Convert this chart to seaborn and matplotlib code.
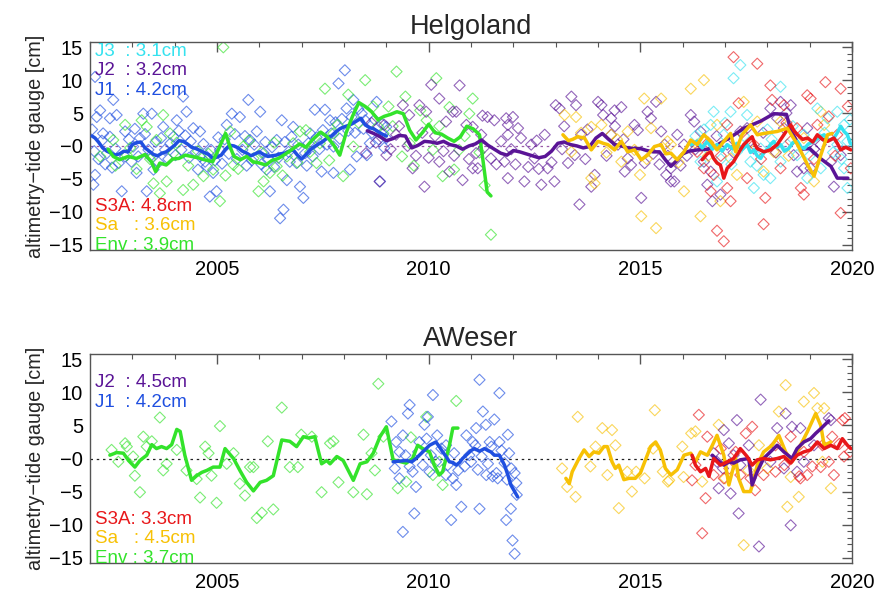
import pandas as pd
import matplotlib
matplotlib.use('Agg')
import matplotlib.pyplot as plt
import seaborn as sns
from matplotlib.ticker import MultipleLocator, FixedLocator

# ---------------- data (year, altimetry - tide gauge [cm]) ----------------
# Helgoland: mission lines (running means)
hel_j1_line = [(2002.05, 1.5), (2002.12, 1.2), (2002.2, 0.6), (2002.3, -0.3), (2002.4, -0.8), (2002.5, -1.1),
               (2002.6, -1.4), (2002.7, -1.2), (2002.8, -0.8), (2002.9, -0.9), (2003.0, 0.2), (2003.1, 0.5),
               (2003.2, 0.6), (2003.3, -0.3), (2003.4, -0.8), (2003.5, -1.3), (2003.6, -1.5), (2003.7, -1.1),
               (2003.8, -0.9), (2003.9, -0.4), (2004.0, 0.1), (2004.1, 0.8), (2004.2, 0.7), (2004.3, 0.3),
               (2004.4, -0.2), (2004.5, -0.4), (2004.6, -0.7), (2004.7, -1.0), (2004.8, -1.3), (2004.9, -1.9),
               (2005.0, -1.7), (2005.1, -1.4), (2005.2, -0.5), (2005.3, 0.1), (2005.4, 0.0), (2005.5, -0.3),
               (2005.6, -0.8), (2005.7, -1.1), (2005.8, -1.5), (2005.9, -1.2), (2006.0, -0.9), (2006.1, -1.3),
               (2006.2, -1.6), (2006.3, -1.5), (2006.4, -1.4), (2006.5, -1.2), (2006.6, -1.1), (2006.7, -0.8),
               (2006.8, -0.6), (2006.9, -1.4), (2007.0, -2.0), (2007.1, -1.3), (2007.2, -0.6), (2007.3, -0.1),
               (2007.4, 0.3), (2007.5, 0.7), (2007.6, 1.2), (2007.7, 1.5), (2007.8, 2.1), (2007.9, 2.6),
               (2008.0, 2.9), (2008.1, 3.1), (2008.2, 3.4), (2008.3, 3.8), (2008.4, 4.2), (2008.5, 3.2),
               (2008.6, 2.8), (2008.7, 2.6), (2008.8, 2.2), (2008.9, 1.8), (2009.0, 1.5)]
hel_env_line = [(2002.43, -0.5), (2002.55, -1.6), (2002.7, -2.1), (2002.9, -1.6), (2003.1, -1.9), (2003.3, -1.3),
                (2003.45, -2.4), (2003.55, -3.9), (2003.65, -2.6), (2003.8, -2.9), (2003.95, -2.0), (2004.1, -1.9),
                (2004.25, -1.4), (2004.4, -1.6), (2004.55, -1.8), (2004.7, -2.1), (2004.9, -2.4), (2005.05, -0.3),
                (2005.2, 1.9), (2005.3, 0.0), (2005.4, -1.6), (2005.55, -2.1), (2005.7, -1.6), (2005.85, -2.4),
                (2006.0, -2.6), (2006.15, -2.9), (2006.3, -2.2), (2006.45, -1.9), (2006.6, -1.3), (2006.8, -0.4),
                (2006.95, 0.3), (2007.1, -0.2), (2007.25, 0.9), (2007.45, 2.1), (2007.6, 1.4), (2007.75, 0.2),
                (2007.9, -1.4), (2008.05, 2.0), (2008.2, 4.5), (2008.35, 6.6), (2008.5, 6.0), (2008.65, 5.2),
                (2008.8, 4.0), (2008.95, 4.5), (2009.1, 4.8), (2009.25, 5.2), (2009.4, 4.9), (2009.55, 2.4),
                (2009.7, 0.9), (2009.85, 2.0), (2010.0, 3.3), (2010.15, 2.0), (2010.3, 1.8), (2010.45, 1.2),
                (2010.6, 0.7), (2010.75, 1.4), (2010.9, 3.0), (2011.05, 2.6), (2011.2, 1.7), (2011.28, -2.1),
                (2011.38, -7.0), (2011.47, -7.6)]
hel_j2_line = [(2008.55, 2.3), (2008.7, 1.9), (2008.85, 1.4), (2009.0, 0.8), (2009.15, 1.1), (2009.3, 1.6),
               (2009.45, 1.5), (2009.6, -0.3), (2009.75, 0.1), (2009.9, 0.7), (2010.05, 0.6), (2010.2, 0.4),
               (2010.35, 0.7), (2010.5, 0.2), (2010.65, 0.0), (2010.8, -0.5), (2010.95, 0.0), (2011.1, 0.3),
               (2011.25, 0.9), (2011.4, 0.1), (2011.55, -0.5), (2011.7, -1.1), (2011.85, -1.4), (2012.0, -0.7),
               (2012.15, -0.9), (2012.3, -1.2), (2012.45, -1.5), (2012.6, -1.8), (2012.75, -1.6), (2012.9, -0.8),
               (2013.05, 0.4), (2013.2, 0.6), (2013.35, 0.2), (2013.5, 0.0), (2013.65, -0.3), (2013.8, -0.1),
               (2013.95, 1.2), (2014.1, 1.9), (2014.25, 1.0), (2014.4, 0.2), (2014.55, 0.0), (2014.7, -0.3),
               (2014.85, -0.4), (2015.0, -0.4), (2015.15, -0.7), (2015.3, -0.9), (2015.45, -0.9), (2015.6, -2.2),
               (2015.72, -3.1), (2015.85, -2.3), (2016.0, -1.2), (2016.15, -0.8), (2016.35, -0.6), (2016.6, -0.5),
               (2016.8, 0.1), (2017.1, 1.2), (2017.45, 2.7), (2017.85, 3.8), (2018.15, 4.9), (2018.45, 4.8),
               (2018.55, 2.4), (2018.8, -0.5), (2019.0, -0.4), (2019.25, -1.9), (2019.5, -3.1), (2019.65, -4.9),
               (2019.9, -4.9)]
hel_j3_line = [(2016.2, 0.2), (2016.34, 0.7), (2016.46, -0.3), (2016.58, 0.7), (2016.7, -0.5), (2016.81, 0.2),
               (2016.93, -0.8), (2017.05, 0.2), (2017.17, -0.4), (2017.28, 0.4), (2017.4, -0.6), (2017.52, 0.2),
               (2017.6, -1.0), (2017.68, -0.6), (2017.76, -1.5), (2017.84, -1.9), (2017.92, -1.0), (2017.99, -0.6),
               (2018.07, 0.2), (2018.15, 0.7), (2018.23, -0.2), (2018.31, 0.2), (2018.4, -0.8), (2018.5, -0.4),
               (2018.6, 0.5), (2018.71, 0.7), (2018.8, -0.2), (2018.87, -0.4), (2018.97, 0.3), (2019.1, 0.7),
               (2019.2, 1.2), (2019.34, 1.7), (2019.45, 0.8), (2019.57, 1.2), (2019.65, 2.0), (2019.73, 3.0),
               (2019.81, 2.2), (2019.89, 1.7), (2019.95, 0.5), (2020.0, 0.2)]
hel_s3a_line = [(2016.46, -2.1), (2016.58, -1.2), (2016.66, -0.9), (2016.73, -1.9), (2016.81, -2.6), (2016.89, -2.9),
                (2016.97, -4.9), (2017.05, -3.4), (2017.2, -2.4), (2017.28, -1.5), (2017.36, -0.6), (2017.44, 0.2),
                (2017.52, 0.7), (2017.64, 1.4), (2017.7, 0.3), (2017.76, -0.4), (2017.92, -0.9), (2018.07, -0.6),
                (2018.23, 0.2), (2018.39, 1.7), (2018.47, 2.5), (2018.55, 3.2), (2018.63, 2.3), (2018.71, 1.7),
                (2018.83, 1.0), (2018.95, 1.2), (2019.07, 0.6), (2019.18, 1.7), (2019.3, 1.0), (2019.42, 0.7),
                (2019.57, 1.2), (2019.65, 0.4), (2019.73, -0.6), (2019.85, -0.2), (2019.97, -0.6)]
hel_sa_line = [(2013.17, 1.7), (2013.3, 0.8), (2013.4, 1.0), (2013.52, 1.4), (2013.68, 1.2), (2013.84, -0.6),
               (2014.0, 0.7), (2014.12, 0.4), (2014.23, 0.2), (2014.39, -0.6), (2014.55, 0.7), (2014.7, -0.9),
               (2014.86, -0.6), (2015.02, -2.1), (2015.17, -1.4), (2015.33, -0.1), (2015.49, 0.2), (2015.6, -1.2),
               (2015.72, -1.1), (2015.87, -2.1), (2016.03, -0.9), (2016.19, 0.9), (2016.34, 0.2), (2016.5, 1.7),
               (2016.66, 0.7), (2016.81, -0.6), (2016.97, 0.7), (2017.13, 1.9), (2017.25, -0.9), (2017.4, 1.7),
               (2017.6, 3.2), (2017.76, 1.7), (2017.92, 1.9), (2018.23, 2.2), (2018.47, 2.7), (2018.71, 0.2),
               (2018.95, -2.9), (2019.1, -4.6), (2019.26, -1.4), (2019.42, 1.7), (2019.53, 1.9)]

# Helgoland: single-cycle differences
hel_j1_pts = [(2002.12, 10.5), (2002.24, 5.4), (2002.16, 4.4), (2002.47, 4.2), (2002.55, 7.0), (2002.31, 1.9),
              (2002.12, -4.4), (2002.08, -5.9), (2002.47, 1.4), (2002.63, 4.7), (2002.83, 2.2), (2002.83, -1.6),
              (2002.75, -6.9), (2003.02, -0.1), (2003.18, 1.2), (2003.26, 4.9), (2003.46, 4.9), (2003.42, -1.6),
              (2003.1, -4.1), (2003.34, -6.9), (2003.5, -3.6), (2003.73, 2.9), (2003.77, -0.6), (2003.97, 1.4),
              (2004.05, 3.9), (2004.2, 7.5), (2004.28, 5.2), (2004.44, 2.7), (2004.6, 2.2), (2004.6, -1.6),
              (2004.76, -3.1), (2004.91, -4.1), (2004.99, -6.9), (2004.83, -7.7), (2005.07, -0.6), (2005.23, 3.2),
              (2005.35, 4.9), (2005.54, 4.4), (2005.74, 7.0), (2005.78, 0.9), (2005.94, 2.2), (2006.02, 5.2),
              (2006.1, -1.1), (2006.17, -3.6), (2006.25, -6.9), (2006.41, 0.9), (2006.53, 3.9), (2006.65, -5.2),
              (2006.72, -2.4), (2006.8, 2.9), (2006.96, -6.2), (2007.04, -7.9), (2007.08, -1.1), (2007.2, 1.9),
              (2007.31, 5.5), (2007.47, -3.9), (2007.55, 5.5), (2007.67, 3.9), (2007.75, -0.1), (2007.87, 9.5),
              (2008.02, 11.5), (2008.06, 5.7), (2008.22, 7.0), (2008.3, -1.6), (2008.42, 4.9), (2008.54, -1.4),
              (2008.61, 0.4), (2008.85, -5.4), (2008.77, 6.7), (2009.0, 2.9), (2009.0, 1.2), (2006.57, -9.7),
              (2006.49, -11.0), (2007.75, -4.1), (2008.14, -3.6),
              (2002.05, 2.5), (2002.1, -0.8), (2002.2, -2.0), (2002.28, 0.8), (2002.36, -2.8), (2002.4, -1.1),
              (2002.52, -3.3), (2002.6, -0.4), (2002.68, -2.6), (2002.92, 1.0), (2002.98, -2.4), (2003.06, 2.6),
              (2003.14, -1.6), (2003.3, 1.8), (2003.38, -0.6), (2003.55, 0.6), (2003.62, -2.5), (2003.68, 1.2),
              (2003.85, -2.0), (2003.9, 0.4), (2004.02, -1.4), (2004.1, 2.3), (2004.16, -0.6), (2004.25, 1.6),
              (2004.34, -1.8), (2004.38, 0.7), (2004.5, -0.9), (2004.55, -3.6), (2004.68, 0.3), (2004.72, -2.4),
              (2004.86, -0.6), (2004.95, -2.2), (2005.03, 1.3), (2005.12, -2.7), (2005.18, 1.0), (2005.28, -1.2),
              (2005.42, 1.8), (2005.47, -2.0), (2005.6, -0.6), (2005.66, 1.5), (2005.7, -3.0), (2005.82, -2.2),
              (2005.88, 0.2), (2006.05, -2.8), (2006.14, 0.6), (2006.2, -1.9), (2006.3, -0.2), (2006.35, -3.2),
              (2006.45, -1.8), (2006.6, 0.6), (2006.69, -0.9), (2006.76, 1.4), (2006.88, -2.6), (2006.92, 0.2),
              (2007.12, -3.0), (2007.16, 0.4), (2007.26, -1.6), (2007.35, 1.3), (2007.42, -0.5), (2007.5, 2.4),
              (2007.6, 0.2), (2007.7, 1.9), (2007.8, 3.6), (2007.9, 1.1), (2007.95, 4.1), (2008.1, 2.3),
              (2008.18, 4.4), (2008.26, 2.0), (2008.34, 5.6), (2008.46, 2.6), (2008.5, 3.9), (2008.66, 2.0),
              (2008.72, 4.0), (2008.82, 1.0), (2008.9, 3.3), (2008.95, -0.3)]
hel_env_pts = [(2002.24, -1.6), (2002.55, 0.9), (2002.83, 3.2), (2002.87, -1.4), (2003.22, 3.9), (2003.34, 2.9),
               (2003.57, 0.9), (2003.73, 4.7), (2003.89, 1.9), (2003.65, -7.2), (2003.5, -5.7), (2003.81, -5.4),
               (2003.97, -1.1), (2004.2, -6.7), (2004.44, -5.9), (2004.68, -4.6), (2004.91, -3.6), (2005.07, -8.4),
               (2005.15, 15.0), (2005.31, 2.2), (2005.39, -2.9), (2005.62, -0.1), (2005.86, -1.9), (2005.98, -6.9),
               (2006.1, -5.4), (2006.25, -4.1), (2006.41, -3.1), (2006.65, -1.6), (2006.8, 0.4), (2006.96, 2.2),
               (2007.2, -0.9), (2007.43, 0.4), (2007.55, 8.7), (2007.75, 1.9), (2007.98, -4.6), (2008.22, -0.1),
               (2008.5, 10.0), (2008.69, 6.0), (2008.93, 1.9), (2009.24, 11.3), (2009.37, -1.6), (2009.55, 0.4),
               (2009.8, 5.4), (2009.95, 3.9), (2010.18, 10.3), (2010.49, 5.9), (2010.33, -4.6), (2010.6, -3.6),
               (2011.04, 7.2), (2010.96, 4.9), (2011.47, -13.5), (2010.72, -0.6), (2010.1, -0.6),
               (2002.6, -3.0), (2002.95, -0.3), (2003.1, -3.5), (2003.42, -2.0), (2004.05, 0.5), (2004.32, -3.0),
               (2004.55, -0.8), (2004.8, -1.2), (2005.2, -4.5), (2005.5, -3.5), (2005.75, 0.8), (2006.05, -1.0),
               (2006.35, 0.5), (2006.55, -4.5), (2006.9, -2.5), (2007.1, 2.4), (2007.35, -2.6), (2007.65, -2.2),
               (2007.85, 3.2), (2008.1, 7.8), (2008.35, 3.5), (2008.8, 3.0), (2009.05, 6.0), (2009.15, 3.0),
               (2009.45, 7.5), (2009.65, -3.0), (2010.25, 3.0), (2010.85, 1.5), (2011.2, -1.0), (2011.32, -6.0)]
hel_j2_pts = [(2010.06, 9.3), (2010.73, 9.2), (2010.25, 7.2), (2009.78, 6.2), (2009.94, 5.2), (2009.54, 4.7),
              (2010.41, 3.7), (2010.89, 3.2), (2009.23, 1.7), (2008.52, -1.1), (2008.84, -5.4), (2009.0, -1.4),
              (2009.62, -3.4), (2009.9, -6.2), (2010.25, -2.4), (2010.49, -3.9), (2010.8, -5.2), (2011.04, -3.4),
              (2011.12, -1.1), (2009.39, 6.2), (2010.65, 5.2), (2010.57, 5.2), (2011.04, 2.9), (2011.27, 4.6),
              (2011.39, 4.4), (2011.55, 3.9), (2011.24, 1.7), (2011.16, -3.4), (2011.47, -1.9), (2011.83, 4.2),
              (2011.99, 4.4), (2011.87, 1.7), (2011.71, 0.7), (2011.79, -2.4), (2011.87, -4.9), (2012.11, 2.7),
              (2012.18, 1.2), (2012.26, -5.4), (2012.42, 0.2), (2012.5, -1.9), (2012.66, -5.9), (2012.74, 1.7),
              (2012.81, -3.4), (2012.97, -5.4), (2013.0, 6.2), (2013.09, 5.7), (2013.37, 7.5), (2013.48, 6.2),
              (2013.6, 1.7), (2013.45, -1.4), (2013.29, -2.6), (2013.56, -8.9), (2013.84, -6.2), (2013.92, -4.4),
              (2014.0, 6.7), (2014.08, 6.2), (2014.12, 4.7), (2014.31, 4.2), (2014.39, 5.4), (2014.55, 5.9),
              (2014.31, 1.7), (2014.47, 0.2), (2014.7, -1.9), (2014.78, -2.9), (2014.63, -3.9), (2014.86, 3.2),
              (2014.94, 2.4), (2015.02, -7.9), (2015.17, 5.2), (2015.25, 4.2), (2015.37, 6.7), (2015.49, 2.2),
              (2015.57, 0.2), (2015.61, -4.4), (2015.72, -5.4), (2011.87, 3.2),
              (2016.27, 3.7), (2016.19, 4.7), (2015.87, 1.7), (2016.03, 0.2), (2015.72, -3.4), (2015.8, -5.4),
              (2016.42, 2.2), (2016.5, -2.4), (2016.66, -3.9), (2016.58, -5.9), (2016.7, -8.4), (2016.89, -7.4),
              (2017.05, 0.2), (2017.36, 2.2), (2017.52, 2.7), (2017.68, -0.4), (2018.07, 5.7), (2018.31, 6.7),
              (2018.55, 6.2), (2018.23, 4.2), (2018.39, 2.7), (2018.62, -1.4), (2018.86, -3.4), (2018.94, 2.7),
              (2019.26, 0.2), (2019.5, -2.4), (2019.57, -6.2), (2019.73, -1.4), (2019.02, -3.4), (2018.7, -3.9),
              (2008.65, 3.5), (2008.75, 0.5), (2008.95, 3.2), (2009.1, -0.5), (2009.3, 3.0), (2009.5, 0.0),
              (2009.7, -1.5), (2009.85, 2.0), (2010.0, -1.8), (2010.15, 1.5), (2010.35, -0.8), (2010.6, -1.5),
              (2010.95, -2.0), (2011.3, -0.3), (2011.6, -2.8), (2011.95, -0.5), (2012.05, -2.8), (2012.35, -3.2),
              (2012.55, 0.8), (2012.6, -3.5), (2012.9, -2.5), (2013.15, -0.5), (2013.2, 3.0), (2013.7, -2.0),
              (2013.75, 2.5), (2014.2, -1.5), (2014.4, 3.0), (2014.6, 1.0), (2015.1, -2.6), (2015.3, -1.2),
              (2015.45, -2.8), (2015.65, -1.5), (2015.95, -3.0), (2016.1, -1.5), (2016.3, -0.5), (2016.8, 1.5),
              (2017.2, -1.0), (2017.9, 2.0), (2018.45, 5.0), (2019.1, -0.5)]
hel_sa_pts = [(2013.21, 4.7), (2013.48, 4.4), (2013.84, 2.9), (2014.08, 3.2), (2014.31, 1.7), (2013.84, -4.9),
              (2013.92, -5.7), (2014.99, -4.4), (2015.02, -10.7), (2015.37, -12.5), (2015.09, 7.2), (2015.49, 7.2),
              (2014.7, 2.2), (2015.25, 2.7), (2015.72, 0.2), (2014.86, -0.6), (2013.37, -0.9), (2014.55, -2.4),
              (2016.19, 8.7), (2016.5, 10.0), (2016.03, -6.9), (2016.42, -10.7), (2016.89, -8.4), (2015.64, 0.7),
              (2016.34, 0.2), (2016.81, 3.2), (2017.13, -1.9), (2017.44, 6.7), (2017.76, 3.7), (2018.15, -0.9),
              (2018.31, 3.7), (2019.26, 5.2), (2019.34, 3.2), (2018.86, 1.2), (2019.1, -5.4), (2017.28, -4.4),
              (2017.91, -3.9), (2013.6, 2.0), (2014.2, -1.0), (2014.45, 1.0), (2015.15, -2.0), (2015.9, -2.5),
              (2016.6, -1.5), (2017.6, 0.5), (2018.5, -1.5)]
hel_j3_pts = [(2017.2, 10.3), (2017.36, 12.3), (2018.31, 9.0), (2016.73, 5.2), (2017.52, 4.7), (2016.66, 3.2),
              (2016.97, 1.7), (2017.28, -0.9), (2017.6, -2.4), (2017.91, -4.4), (2018.07, -4.9), (2017.68, -6.4),
              (2016.81, -5.4), (2018.47, 0.2), (2018.7, -1.4), (2018.94, -4.9), (2019.18, 5.7), (2019.42, 4.2),
              (2019.65, 5.2), (2019.81, 3.2), (2019.89, 0.7), (2019.81, -3.4), (2019.89, -6.4), (2019.26, -3.4),
              (2018.86, 1.7), (2016.42, -2.4), (2017.13, 5.2), (2016.58, -0.4), (2017.84, -0.4), (2018.31, -2.4),
              (2019.65, 0.2), (2016.3, 1.5), (2016.5, 2.5), (2016.9, -2.0), (2017.0, 3.5), (2017.45, 1.5),
              (2017.75, -3.0), (2018.0, 2.5), (2018.2, -1.0), (2018.6, 3.0), (2019.0, -1.5), (2019.35, 2.0),
              (2019.55, -1.0), (2019.95, 4.0), (2018.1, 1.0), (2017.15, -2.8), (2019.75, -2.0)]
hel_s3a_pts = [(2017.2, 13.5), (2017.76, 12.5), (2018.07, 9.2), (2018.94, 7.7), (2019.02, 7.2), (2019.37, 9.7),
               (2019.73, 8.7), (2017.05, 3.2), (2017.32, 6.5), (2018.11, 7.0), (2018.39, 6.2), (2018.7, 2.7),
               (2019.18, 3.2), (2019.65, 1.7), (2016.73, -4.4), (2016.66, -6.9), (2017.13, -8.4), (2017.05, -6.4),
               (2016.81, -12.9), (2016.97, -14.5), (2017.91, -11.9), (2017.95, -7.9), (2017.52, -4.9),
               (2018.31, -3.4), (2018.79, -6.4), (2018.86, -7.4), (2019.73, -10.2), (2019.97, -3.4),
               (2016.34, -0.9), (2016.5, -3.4), (2017.68, 0.2), (2018.55, 0.7), (2016.9, -1.5), (2017.4, 2.0),
               (2017.85, -2.0), (2018.2, -1.0), (2018.45, 3.5), (2019.1, -2.0), (2019.45, 4.5), (2019.9, 6.0),
               (2019.6, -1.5), (2016.6, 0.5)]

# AWeser: mission lines
aw_env_line = [(2002.47, 0.5), (2002.63, 0.9), (2002.79, 0.8), (2002.91, -0.3), (2003.06, -1.3), (2003.18, -0.3),
               (2003.34, 0.5), (2003.46, 2.1), (2003.57, 1.5), (2003.69, 1.8), (2003.81, 1.5), (2003.93, 2.1),
               (2004.05, 4.4), (2004.13, 4.1), (2004.24, 0.5), (2004.4, -3.3), (2004.52, -2.6), (2004.64, -2.1),
               (2004.76, -1.8), (2004.91, -1.3), (2005.07, -1.3), (2005.19, 1.5), (2005.39, 0.0), (2005.54, -1.8),
               (2005.7, -3.6), (2005.86, -4.9), (2006.02, -3.6), (2006.17, -3.3), (2006.33, -2.6), (2006.53, 2.8),
               (2006.72, 2.6), (2006.88, 1.8), (2007.04, 3.3), (2007.16, 3.1), (2007.31, 3.3), (2007.47, -0.8),
               (2007.59, -0.3), (2007.67, -0.8), (2007.83, 0.3), (2007.98, -0.3), (2008.22, -3.3), (2008.38, -0.8),
               (2008.54, -0.5), (2008.69, 0.8), (2008.85, 3.3), (2009.0, 4.8), (2009.16, -0.2), (2009.47, -0.7),
               (2009.62, 0.0), (2009.74, 2.0), (2009.86, 1.5), (2010.02, 1.0), (2010.13, -1.0), (2010.25, -2.5),
               (2010.33, -2.0), (2010.49, 2.0), (2010.57, 4.6), (2010.69, 4.6)]
aw_j1_line = [(2009.16, -0.5), (2009.3, -0.4), (2009.47, -0.3), (2009.6, -0.5), (2009.7, 0.0), (2009.86, 1.0),
              (2010.02, 2.0), (2010.17, 2.5), (2010.25, 1.8), (2010.33, 1.0), (2010.41, 0.3), (2010.49, -0.5),
              (2010.57, -0.6), (2010.65, -1.0), (2010.73, -0.6), (2010.8, 0.0), (2010.9, 0.6), (2011.0, 1.2),
              (2011.08, 1.5), (2011.2, 1.1), (2011.32, 1.5), (2011.4, 1.2), (2011.47, 1.0), (2011.55, 0.5),
              (2011.67, 0.5), (2011.79, -1.0), (2011.87, -2.5), (2011.94, -4.0), (2012.03, -5.0), (2012.1, -5.8)]
aw_sa_line = [(2013.24, -3.0), (2013.32, -3.8), (2013.39, -2.0), (2013.55, 0.0), (2013.67, 1.3), (2013.79, 0.3),
              (2013.9, 1.0), (2014.02, 0.8), (2014.14, 1.8), (2014.22, 1.8), (2014.33, -0.5), (2014.41, -1.5),
              (2014.49, -1.0), (2014.61, -3.2), (2014.73, -3.0), (2014.88, -3.0), (2015.0, -2.2), (2015.12, -0.2),
              (2015.24, 1.8), (2015.36, 2.5), (2015.47, 1.3), (2015.59, -1.5), (2015.72, -2.5), (2015.87, -1.7),
              (2016.03, 0.5), (2016.19, 0.8), (2016.3, -0.5), (2016.42, 1.0), (2016.58, 0.5), (2016.7, 2.0),
              (2016.81, 3.5), (2016.97, 0.5), (2017.09, -4.0), (2017.25, 0.0), (2017.32, -3.0), (2017.44, -5.0),
              (2017.6, -5.0), (2017.76, -1.0), (2017.91, 1.0), (2018.11, 2.0), (2018.27, 3.5), (2018.43, 1.0),
              (2018.58, -0.5), (2018.74, 1.5), (2018.94, 4.0), (2019.14, 6.8), (2019.26, 5.0), (2019.34, 2.0),
              (2019.5, 2.5)]
aw_j2_line = [(2016.7, 0.5), (2016.81, -0.2), (2016.97, -1.0), (2017.09, -0.5), (2017.2, -0.7), (2017.36, -0.2),
              (2017.56, 0.0), (2017.64, -4.0), (2017.76, -2.0), (2017.91, 0.0), (2018.07, 1.0), (2018.23, 2.0),
              (2018.39, 1.0), (2018.58, 0.0), (2018.7, 1.5), (2018.86, 2.5), (2019.02, 3.0), (2019.14, 3.8),
              (2019.26, 4.5), (2019.45, 5.7)]
aw_s3a_line = [(2016.22, 0.5), (2016.3, -1.0), (2016.42, -2.0), (2016.54, -1.5), (2016.62, -2.7), (2016.73, 0.0),
               (2016.89, -1.0), (2017.05, -0.5), (2017.2, 0.0), (2017.36, 1.5), (2017.52, 0.3), (2017.64, -1.0),
               (2017.76, -0.2), (2017.91, 0.0), (2018.07, -0.2), (2018.23, 0.0), (2018.39, 0.3), (2018.55, -0.7),
               (2018.7, 0.5), (2018.86, 1.0), (2019.02, 1.3), (2019.18, 2.5), (2019.34, 1.5), (2019.5, 2.0),
               (2019.65, 1.5), (2019.77, 3.0), (2019.89, 2.0), (2019.97, 1.5)]

# AWeser: single-cycle differences
aw_env_pts = [(2002.51, 1.3), (2002.67, -0.5), (2002.83, 2.3), (2002.87, 1.8), (2003.02, 0.3), (2003.06, -2.6),
              (2003.18, -5.1), (2003.26, 3.3), (2003.34, 1.8), (2003.46, 2.6), (2003.65, 6.2), (2003.73, -1.8),
              (2003.81, -0.8), (2004.05, 1.3), (2004.28, -1.8), (2004.52, -3.1), (2004.6, -5.9), (2004.72, 1.8),
              (2004.8, 0.8), (2004.87, -2.6), (2004.99, -6.7), (2005.07, 4.9), (2005.23, -0.8), (2005.39, 0.8),
              (2005.54, -3.8), (2005.66, -5.6), (2005.78, -1.3), (2005.86, -1.3), (2005.94, -9.0), (2006.06, -8.2),
              (2006.2, 2.6), (2006.33, -7.7), (2006.53, 7.7), (2006.72, -1.3), (2006.91, -1.3), (2006.99, 3.6),
              (2007.24, 3.3), (2007.47, -5.1), (2007.67, 2.3), (2007.75, 2.6), (2007.87, -3.6), (2008.22, -5.1),
              (2008.46, 3.6), (2008.54, -5.4), (2008.65, 0.8), (2008.73, -1.8), (2008.81, 11.3), (2008.93, 3.3),
              (2009.94, 6.3), (2010.65, 8.7), (2010.1, -2.5), (2010.33, -4.0), (2009.27, -4.5), (2009.47, -3.5),
              (2009.58, 3.2), (2010.25, -0.5)]
aw_j1_pts = [(2009.12, 5.6), (2009.55, 8.1), (2009.51, 6.8), (2010.1, 9.6), (2009.9, 5.1), (2009.98, 6.3),
             (2009.39, -11.1), (2009.66, -8.3), (2010.53, -9.3), (2010.77, -7.3), (2009.23, 2.5), (2009.31, 1.0),
             (2009.78, 2.5), (2009.31, -3.0), (2009.62, -2.0), (2009.7, -4.3), (2010.17, -0.5), (2010.41, 2.0),
             (2010.57, -3.0), (2010.65, -4.0), (2010.89, 3.5), (2011.04, 2.5), (2009.39, 3.5), (2010.02, -2.0),
             (2010.41, -2.5), (2010.96, 0.5), (2009.86, -1.0), (2011.2, 11.9), (2011.67, 9.9), (2011.28, 7.1),
             (2011.55, 5.9), (2011.35, 5.1), (2011.87, 3.6), (2011.12, 4.6), (2011.9, 0.8), (2011.16, -1.7),
             (2011.36, -2.5), (2011.51, -2.7), (2011.63, -3.0), (2012.03, -2.2), (2012.07, -3.7), (2011.2, -7.6),
             (2011.94, -7.6), (2011.83, -9.3), (2011.98, -12.4), (2012.03, -14.4), (2011.67, 2.5), (2011.44, 2.5),
             (2011.79, -0.7), (2009.2, -1.5), (2009.45, 0.5), (2009.55, -1.2), (2009.75, 1.0), (2009.95, 3.0),
             (2010.05, 0.5), (2010.2, 3.5), (2010.3, 1.5), (2010.45, -1.0), (2010.6, 0.8), (2010.7, -1.8),
             (2010.85, -1.2), (2011.0, -0.5), (2011.1, 2.0), (2011.25, 0.3), (2011.4, -0.8), (2011.48, 1.8),
             (2011.6, -2.2), (2011.72, 1.2), (2011.85, -3.2), (2011.95, -1.5), (2012.08, -5.5)]
aw_sa_pts = [(2013.52, 6.3), (2013.27, -4.3), (2013.15, -1.5), (2013.47, -5.8), (2013.82, -1.2), (2013.94, 1.8),
             (2014.1, 4.6), (2014.33, 4.3), (2014.41, 2.0), (2014.22, -2.5), (2014.49, -7.5), (2014.8, -5.0),
             (2014.69, -2.0), (2014.9, -2.0), (2015.1, -3.0), (2015.34, 7.3), (2015.3, 1.5), (2015.53, -2.0),
             (2015.65, -3.5), (2015.99, 1.8), (2016.2, 3.8), (2016.3, 4.1), (2016.02, -2.8), (2015.68, -3.3),
             (2016.46, -3.5), (2016.85, 5.1), (2017.44, -13.1), (2017.8, 2.0), (2018.27, 7.1), (2018.43, 11.1),
             (2018.86, 8.6), (2019.1, 9.9), (2019.18, 7.6), (2019.34, 7.6), (2018.47, -7.3), (2018.74, -5.8),
             (2019.5, -4.5), (2018.55, -2.8), (2017.0, -3.0), (2017.55, -1.8), (2018.0, -1.5), (2019.3, -0.5)]
aw_j2_pts = [(2017.84, 8.9), (2018.43, 6.8), (2017.28, 5.8), (2016.97, 4.3), (2018.23, 4.6), (2018.58, 4.8),
             (2018.78, 4.6), (2019.45, 6.1), (2019.5, 5.8), (2017.09, 2.3), (2017.56, 2.0), (2016.73, 0.8),
             (2016.81, -0.5), (2017.36, -1.0), (2016.85, -4.5), (2017.13, -5.3), (2017.32, -8.3), (2018.55, -10.1),
             (2017.8, -13.3), (2018.07, -0.5), (2018.39, -1.5), (2018.86, -0.5), (2018.7, -2.0), (2019.1, 2.0),
             (2016.95, -1.5), (2017.2, 0.5)]
aw_s3a_pts = [(2016.38, 6.6), (2016.58, 3.3), (2017.49, 3.8), (2017.64, 4.8), (2016.54, -6.0), (2016.46, -11.3),
              (2016.22, -3.3), (2016.73, -2.5), (2016.97, -3.0), (2017.36, -2.5), (2017.6, -3.0), (2017.71, -4.8),
              (2018.19, 2.0), (2018.55, 3.3), (2018.86, 1.0), (2018.94, -2.5), (2019.26, -1.3), (2019.45, -0.5),
              (2019.53, 3.3), (2019.77, 5.8), (2019.81, 0.3), (2019.3, 2.0), (2017.91, -2.5), (2018.19, -2.0),
              (2018.78, -3.0), (2019.83, 6.1), (2019.06, -1.2), (2018.75, -2.7), (2019.57, -2.5), (2016.9, 1.5),
              (2017.1, -1.5), (2016.3, -1.0), (2017.25, 1.0), (2019.95, 1.0), (2019.7, 2.2), (2018.4, -1.0)]

# rms labels
hel_top_labels = [('J3', 'J3  : 3.1cm'), ('J2', 'J2  : 3.2cm'), ('J1', 'J1  : 4.2cm')]
hel_bot_labels = [('S3A', 'S3A: 4.8cm'), ('Sa', 'Sa   : 3.6cm'), ('Env', 'Env : 3.9cm')]
aw_top_labels = [('J2', 'J2  : 4.5cm'), ('J1', 'J1  : 4.2cm')]
aw_bot_labels = [('S3A', 'S3A: 3.3cm'), ('Sa', 'Sa   : 4.5cm'), ('Env', 'Env : 3.7cm')]

y_ticks = [-15, -10, -5, 0, 5, 10, 15]
y_ticklabels = ['\u221215', '\u221210', '\u22125', '\u22120', '5', '10', '15']
x_ticks = [2005, 2010, 2015, 2020]

COLORS = {'J1': '#1f4fe0', 'J2': '#5a1496', 'J3': '#35e2ef', 'Env': '#33e32b', 'Sa': '#f7c105', 'S3A': '#e8171a'}

# label slots (axes fraction), counted from the top and from the bottom
TOP_SLOTS = [0.955, 0.862, 0.769]
BOT_SLOTS = [0.208, 0.115, 0.022]


def draw_panel(ax, title, scatters, lines, top_labels, bot_labels, zero_color):
    ax.axhline(0, color=zero_color, lw=0.9, ls=(0, (2, 3)), zorder=1)
    for name, pts in scatters:
        df = pd.DataFrame(pts, columns=['year', 'diff'])
        sns.scatterplot(data=df, x='year', y='diff', ax=ax, marker='D', s=32,
                        facecolor='none', edgecolor=COLORS[name], linewidth=0.8,
                        alpha=0.65, zorder=2, legend=False)
    for name, pts in lines:
        df = pd.DataFrame(pts, columns=['year', 'diff'])
        sns.lineplot(data=df, x='year', y='diff', ax=ax, color=COLORS[name], lw=2.5,
                     sort=False, estimator=None, zorder=3, legend=False)

    ax.set_xlim(2002, 2020)
    ax.set_ylim(-15.8, 15.8)
    ax.xaxis.set_major_locator(FixedLocator(x_ticks))
    ax.xaxis.set_minor_locator(MultipleLocator(1))
    ax.yaxis.set_major_locator(FixedLocator(y_ticks))
    ax.yaxis.set_minor_locator(MultipleLocator(1))
    ax.set_yticklabels(y_ticklabels)
    ax.tick_params(which='both', direction='in', top=True, right=True, colors='#555555',
                   labelcolor='black', labelsize=14.5)
    ax.tick_params(which='major', length=7, width=1)
    ax.tick_params(which='minor', length=3.5, width=0.8)
    ax.tick_params(axis='x', pad=7)
    ax.tick_params(axis='y', pad=5)
    for sp in ax.spines.values():
        sp.set_color('#555555')
        sp.set_linewidth(1)

    ax.set_xlabel('')
    ax.set_ylabel('altimetry\u2212tide gauge [cm]', fontsize=14.3, labelpad=3)
    ax.set_title(title, fontsize=19.5, pad=6)

    # upper labels fill the slots nearest the bottom of the upper block (as in the original layout)
    top_ys = TOP_SLOTS[len(TOP_SLOTS) - len(top_labels):]
    for (name, txt), y in zip(top_labels, top_ys):
        ax.text(0.007, y, txt, transform=ax.transAxes, color=COLORS[name], fontsize=13.5,
                va='center', ha='left', clip_on=True, zorder=5)
    for (name, txt), y in zip(bot_labels, BOT_SLOTS):
        ax.text(0.007, y, txt, transform=ax.transAxes, color=COLORS[name], fontsize=13.5,
                va='center', ha='left', clip_on=True, zorder=5)


sns.set_style('white')
plt.rcParams['font.family'] = ['Liberation Sans', 'DejaVu Sans']

fig = plt.figure(figsize=(8.77, 5.92), dpi=100)
ax1 = fig.add_axes([0.1026, 0.578, 0.869, 0.351])
ax2 = fig.add_axes([0.1026, 0.049, 0.869, 0.353])

draw_panel(ax1, 'Helgoland',
           [('J1', hel_j1_pts), ('Env', hel_env_pts), ('J2', hel_j2_pts), ('Sa', hel_sa_pts),
            ('J3', hel_j3_pts), ('S3A', hel_s3a_pts)],
           [('J1', hel_j1_line), ('Env', hel_env_line), ('J2', hel_j2_line), ('J3', hel_j3_line),
            ('S3A', hel_s3a_line), ('Sa', hel_sa_line)],
           hel_top_labels, hel_bot_labels, '#9a5aa8')
draw_panel(ax2, 'AWeser',
           [('Env', aw_env_pts), ('J1', aw_j1_pts), ('Sa', aw_sa_pts), ('J2', aw_j2_pts), ('S3A', aw_s3a_pts)],
           [('Env', aw_env_line), ('J1', aw_j1_line), ('Sa', aw_sa_line), ('J2', aw_j2_line),
            ('S3A', aw_s3a_line)],
           aw_top_labels, aw_bot_labels, '#222222')

fig.savefig('out.png', dpi=100)
